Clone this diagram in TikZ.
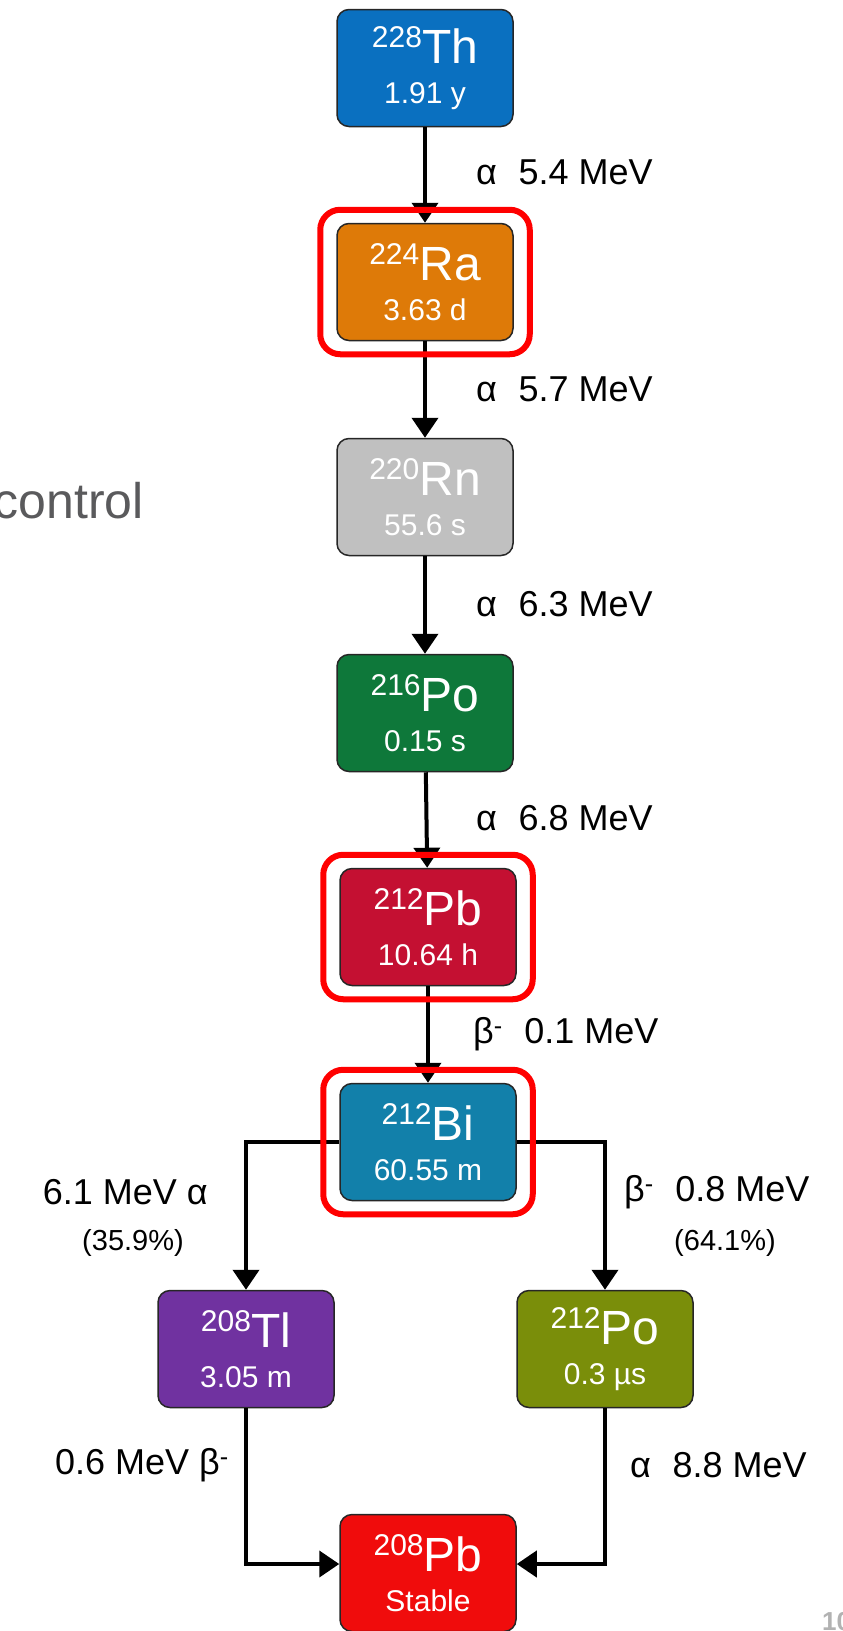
\documentclass[tikz,border=0pt]{standalone}
\usepackage{fontspec}
\setmainfont{Liberation Sans}
\usetikzlibrary{arrows.meta,positioning,fit}
\definecolor{thblue}{RGB}{10,112,192}
\definecolor{raorange}{RGB}{222,122,8}
\definecolor{rngray}{RGB}{192,192,192}
\definecolor{pogreen}{RGB}{14,120,58}
\definecolor{pbcrimson}{RGB}{196,16,50}
\definecolor{biteal}{RGB}{18,128,170}
\definecolor{tlpurple}{RGB}{112,50,160}
\definecolor{poolive}{RGB}{122,142,10}
\definecolor{stablered}{RGB}{240,12,12}
\definecolor{slidegray}{RGB}{90,90,92}
\newcommand{\nucl}[3]{\raisebox{16pt}{\fontsize{30}{30}\selectfont #1}{\fontsize{48}{48}\selectfont #2}\\#3}

\begin{document}
\begin{tikzpicture}[x=1pt, y=-1pt,
    nuclide/.style={draw=black!85, line width=1.5pt, rounded corners=12pt,
      minimum width=176pt, minimum height=117pt, inner sep=0pt,
      text=white, align=center, font=\fontsize{30}{40}\selectfont},
    decay/.style={line width=4pt, -{Triangle[width=26pt,length=20pt]}},
    redframe/.style={draw=red, line width=6pt, rounded corners=20pt,
      inner xsep=16pt, inner ysep=13pt},
    energy/.style={font=\fontsize{36}{36}\selectfont, inner sep=0pt},
    ratio/.style={font=\fontsize{29}{29}\selectfont, inner sep=0pt}]
    \useasboundingbox (0,0) rectangle (843,1631);

    % slide text cut at the edge
    \node[anchor=base east, inner sep=0pt, text=slidegray, font=\fontsize{50}{50}\selectfont] (ctrl) at (144,518) {control};
    \node[anchor=north west, inner sep=0pt, text=black!30, font=\fontsize{26}{26}\selectfont\bfseries] (pagenum) at (822,1612) {10};

    % decay chain
    \node[nuclide, fill=thblue] (th) at (425,68) {\nucl{228}{Th}{1.91 y}};
    \node[nuclide, fill=raorange] (ra) at (425,282) {\nucl{224}{Ra}{3.63 d}};
    \node[nuclide, fill=rngray] (rn) at (425,497) {\nucl{220}{Rn}{55.6 s}};
    \node[nuclide, fill=pogreen] (po216) at (425,713) {\nucl{216}{Po}{0.15 s}};
    \node[nuclide, fill=pbcrimson] (pb212) at (428,927) {\nucl{212}{Pb}{10.64 h}};
    \node[nuclide, fill=biteal] (bi) at (428,1142) {\nucl{212}{Bi}{60.55 m}};
    \node[nuclide, fill=tlpurple] (tl) at (246,1349) {\nucl{208}{Tl}{3.05 m}};
    \node[nuclide, fill=poolive] (po212) at (605,1349) {\nucl{212}{Po}{0.3 µs}};
    \node[nuclide, fill=stablered] (pb208) at (428,1573) {\nucl{208}{Pb}{Stable}};

    % arrows
    \draw[decay] (th) -- (ra);
    \draw[decay] (ra) -- (rn);
    \draw[decay] (rn) -- (po216);
    \draw[decay] (po216) -- (pb212);
    \draw[decay] (pb212) -- (bi);
    \draw[decay] (bi.west) -| (tl.north);
    \draw[decay] (bi.east) -| (po212.north);
    \draw[decay] (tl.south) |- ([yshift=9pt]pb208.west);
    \draw[decay] (po212.south) |- ([yshift=9pt]pb208.east);

    % highlighted nuclides
    \node[redframe, fit=(ra)] (raring) {};
    \node[redframe, fit=(pb212)] (pbring) {};
    \node[redframe, fit=(bi)] (biring) {};

    % energies
    \node[energy, anchor=west] (e54) at (476,172) {α\hspace{0.6em}5.4 MeV};
    \node[energy, anchor=west] (e57) at (476,389) {α\hspace{0.6em}5.7 MeV};
    \node[energy, anchor=west] (e63) at (476,604) {α\hspace{0.6em}6.3 MeV};
    \node[energy, anchor=west] (e68) at (476,818) {α\hspace{0.6em}6.8 MeV};
    \node[energy, anchor=west] (e01) at (473,1034) {β\textsuperscript{-}\hspace{0.6em}0.1 MeV};
    \node[energy, anchor=east] (e61) at (208,1192) {6.1 MeV α};
    \node[ratio] (r359) at (133,1243) {(35.9\%)};
    \node[energy, anchor=west] (e08) at (624,1192) {β\textsuperscript{-}\hspace{0.6em}0.8 MeV};
    \node[ratio] (r641) at (725,1243) {(64.1\%)};
    \node[energy, anchor=east] (e06) at (229,1465) {0.6 MeV β\textsuperscript{-}};
    \node[energy, anchor=west] (e88) at (630,1465) {α\hspace{0.6em}8.8 MeV};
\end{tikzpicture}
\end{document}
